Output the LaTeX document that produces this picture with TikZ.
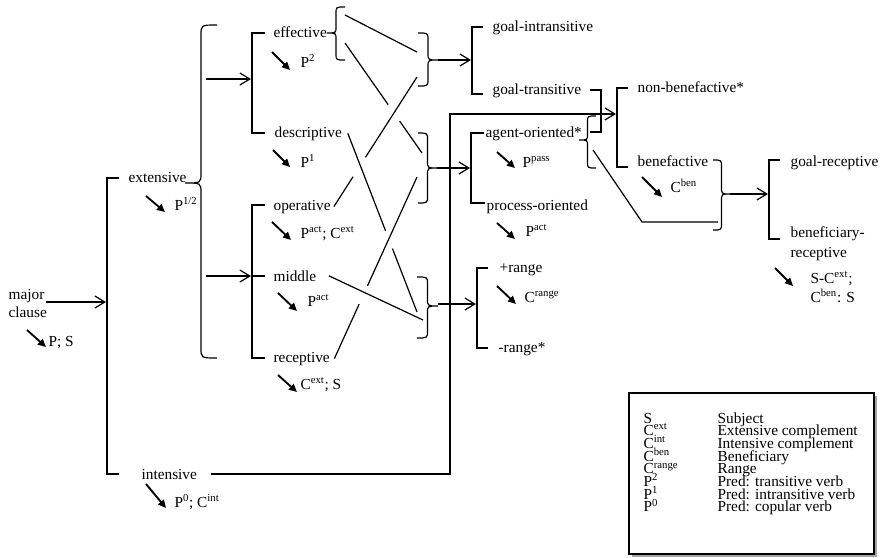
\documentclass[tikz,border=0pt]{standalone}
\usepackage{fontspec}
\setmainfont{Liberation Serif}
\usetikzlibrary{arrows.meta,calc}

% curly brace: radius, end x, tip x, top y, tip y, bottom y
\newcommand{\featbrace}[6]{%
  \draw (#2,#4) .. controls ({(#2+#3)/2},#4) .. ({(#2+#3)/2},#4+#1)
    -- ({(#2+#3)/2},#5-#1) .. controls ({(#2+#3)/2},#5) .. (#3,#5)
    .. controls ({(#2+#3)/2},#5) .. ({(#2+#3)/2},#5+#1)
    -- ({(#2+#3)/2},#6-#1) .. controls ({(#2+#3)/2},#6) .. (#2,#6);}

\begin{document}
\begin{tikzpicture}[x=0.75pt,y=-0.75pt,line width=0.9pt,
  font=\fontsize{11.5}{13.5}\selectfont,
  feat/.style={anchor=base west,inner sep=0pt},
  keyrow/.style={feat,text height=7pt,text depth=1.5pt},
  real/.style={-{Triangle[length=6pt,width=5.5pt]},line width=1.4pt},
  branch/.style={-{Straight Barb[length=7.5pt,width=9pt]}}]
  \useasboundingbox (0,0) rectangle (884,557);

  % features
  \node[feat] (major) at (8,299) {major};
  \node[feat] (clause) at (8,317) {clause};
  \node[feat] (ext) at (128,182) {extensive};
  \node[feat] (int) at (141,479) {intensive};
  \node[feat] (eff) at (273,37) {effective};
  \node[feat] (desc) at (274,137) {descriptive};
  \node[feat] (oper) at (273,210) {operative};
  \node[feat] (mid) at (273,281) {middle};
  \node[feat] (rec) at (273,362) {receptive};
  \node[feat] (gin) at (492,31) {goal-intransitive};
  \node[feat] (gtr) at (492,94) {goal-transitive};
  \node[feat] (agent) at (485,137) {agent-oriented*};
  \node[feat] (proc) at (486,210) {process-oriented};
  \node[feat] (plusr) at (499,272) {+range};
  \node[feat] (minr) at (498,352) {-range*};
  \node[feat] (nonben) at (637,92) {non-benefactive*};
  \node[feat] (ben) at (637,166) {benefactive};
  \node[feat] (goalrec) at (790,166) {goal-receptive};
  \node[feat] (benrec) at (790,237) {beneficiary-};
  \node[feat] (benrec2) at (790,257) {receptive};

  % realisations
  \node[feat] (ps) at (48,346) {P; S};
  \node[feat] (phalf) at (174,210) {P\textsuperscript{1/2}};
  \node[feat] (pzero) at (174,507) {P\textsuperscript{0}; C\textsuperscript{int}};
  \node[feat] (ptwo) at (300,67) {P\textsuperscript{2}};
  \node[feat] (pone) at (300,167) {P\textsuperscript{1}};
  \node[feat] (pactop) at (300,238) {P\textsuperscript{act}; C\textsuperscript{ext}};
  \node[feat] (pactmid) at (307,306) {P\textsuperscript{act}};
  \node[feat] (cextrec) at (300,389) {C\textsuperscript{ext}; S};
  \node[feat] (ppass) at (522,167) {P\textsuperscript{pass}};
  \node[feat] (pactproc) at (525,236) {P\textsuperscript{act}};
  \node[feat] (crange) at (524,302) {C\textsuperscript{range}};
  \node[feat] (cben) at (670,192) {C\textsuperscript{ben}};
  \node[feat] (scext) at (810,283) {S-C\textsuperscript{ext};};
  \node[feat] (cbens) at (810,302) {C\textsuperscript{ben}: S};

  \draw[real] ([shift={(-21,-16)}]ps.base west) -- ([shift={(-2,1)}]ps.base west);
  \draw[real] ([shift={(-28,-14)}]phalf.base west) -- ([shift={(-9,2)}]phalf.base west);
  \draw[real] ([shift={(-28,-23)}]pzero.base west) -- ([shift={(-8,1)}]pzero.base west);
  \draw[real] ([shift={(-28,-15)}]ptwo.base west) -- ([shift={(-10,3)}]ptwo.base west);
  \draw[real] ([shift={(-27,-17)}]pone.base west) -- ([shift={(-10,0)}]pone.base west);
  \draw[real] ([shift={(-28,-16)}]pactop.base west) -- ([shift={(-9,2)}]pactop.base west);
  \draw[real] ([shift={(-29,-13)}]pactmid.base west) -- ([shift={(-10,5)}]pactmid.base west);
  \draw[real] ([shift={(-22,-14)}]cextrec.base west) -- ([shift={(-3,3)}]cextrec.base west);
  \draw[real] ([shift={(-25,-15)}]ppass.base west) -- ([shift={(-7,1)}]ppass.base west);
  \draw[real] ([shift={(-28,-13)}]pactproc.base west) -- ([shift={(-10,3)}]pactproc.base west);
  \draw[real] ([shift={(-27,-16)}]crange.base west) -- ([shift={(-8,2)}]crange.base west);
  \draw[real] ([shift={(-28,-15)}]cben.base west) -- ([shift={(-8,5)}]cben.base west);
  \draw[real] ([shift={(-35,-15)}]scext.base west) -- ([shift={(-17,3)}]scext.base west);

  % brackets
  \draw (119,178) -- (107,178) -- (107,474) -- (119,474);
  \draw (265,33) -- (252,33) -- (252,133) -- (265,133);
  \draw (265,205) -- (252,205) -- (252,358) -- (265,358);
  \draw (252,276) -- (265,276);
  \draw (483,27) -- (472,27) -- (472,94) -- (483,94);
  \draw (484,133) -- (471,133) -- (471,203) -- (485,203);
  \draw (488,268) -- (477,268) -- (477,348) -- (488,348);
  \draw (590,90) -- (601,90) -- (601,132) -- (590,132);
  \draw (628,88) -- (617,88) -- (617,167) -- (628,167);
  \draw (780,160) -- (769,160) -- (769,239) -- (780,239);

  % braces
  \featbrace{10}{217}{185}{25}{183}{358}
  \featbrace{6}{345}{327}{7}{33}{60}
  \featbrace{7}{418}{438}{33}{60}{86}
  \featbrace{7}{418}{437}{133}{168}{203}
  \featbrace{7}{417}{438}{277}{306}{338}
  \featbrace{6}{596}{579}{116}{140}{168}
  \featbrace{7}{713}{730}{160}{194}{230}

  % entry points of the crossing lines
  \coordinate (e1) at (345,15);
  \coordinate (e2) at (345,43);
  \coordinate (g1) at (417,52);
  \coordinate (g2) at (417,77);
  \coordinate (a1) at (422,153);
  \coordinate (a2) at (417,177);
  \coordinate (r1) at (417,312);
  \coordinate (r2) at (423,320);
  \coordinate (o0) at ([xshift=2]oper.east);
  \coordinate (d0) at ([xshift=4]desc.east);
  \coordinate (c0) at ([xshift=3]rec.east);
  \coordinate (m0) at ([xshift=9]mid.east);

  \draw (e1) -- (g1);
  \draw (e2) -- ($(e2)!0.56!(a1)$) ($(e2)!0.71!(a1)$) -- (a1);
  \draw (o0) -- ($(o0)!0.23!(g2)$) ($(o0)!0.38!(g2)$) -- (g2);
  \draw (d0) -- ($(d0)!0.545!(r1)$) ($(d0)!0.645!(r1)$) -- (r1);
  \draw (c0) -- ($(c0)!0.30!(a2)$) ($(c0)!0.40!(a2)$) -- (a2);
  \draw (m0) -- (r2);

  % system arrows
  \draw[branch] ([shift={(1,3)}]major.base east) -- (106,302);
  \draw[branch] (206,79) -- (251,79);
  \draw[branch] (206,276) -- (251,276);
  \draw[branch] (438,60) -- (471,60);
  \draw[branch] (437,168) -- (470,168);
  \draw[branch] (438,304) -- (476,304);
  \draw[branch] ([xshift=10]int.east) -| (450,114) -- (616,114);
  \draw (593,150) -- (642,222) -- (718,222);
  \draw[branch] (730,194) -- (768,194);

  % key
  \draw[gray!70,line width=1.2pt] (632,556) -- (876,556) -- (876,396);
  \draw[fill=white] (629,393) rectangle (874,554);
  \foreach \sym/\txt [count=\i from 0] in {S/Subject,
      C\textsuperscript{ext}/Extensive complement,
      C\textsuperscript{int}/Intensive complement,
      C\textsuperscript{ben}/Beneficiary,
      C\textsuperscript{range}/Range,
      P\textsuperscript{2}/Pred: transitive verb,
      P\textsuperscript{1}/Pred: intransitive verb,
      P\textsuperscript{0}/Pred: copular verb}
  {
    \node[keyrow] (sym\i) at (643,{423+12.7*\i}) {\sym};
    \node[keyrow] (txt\i) at (717,{423+12.7*\i}) {\txt};
  }
\end{tikzpicture}
\end{document}
